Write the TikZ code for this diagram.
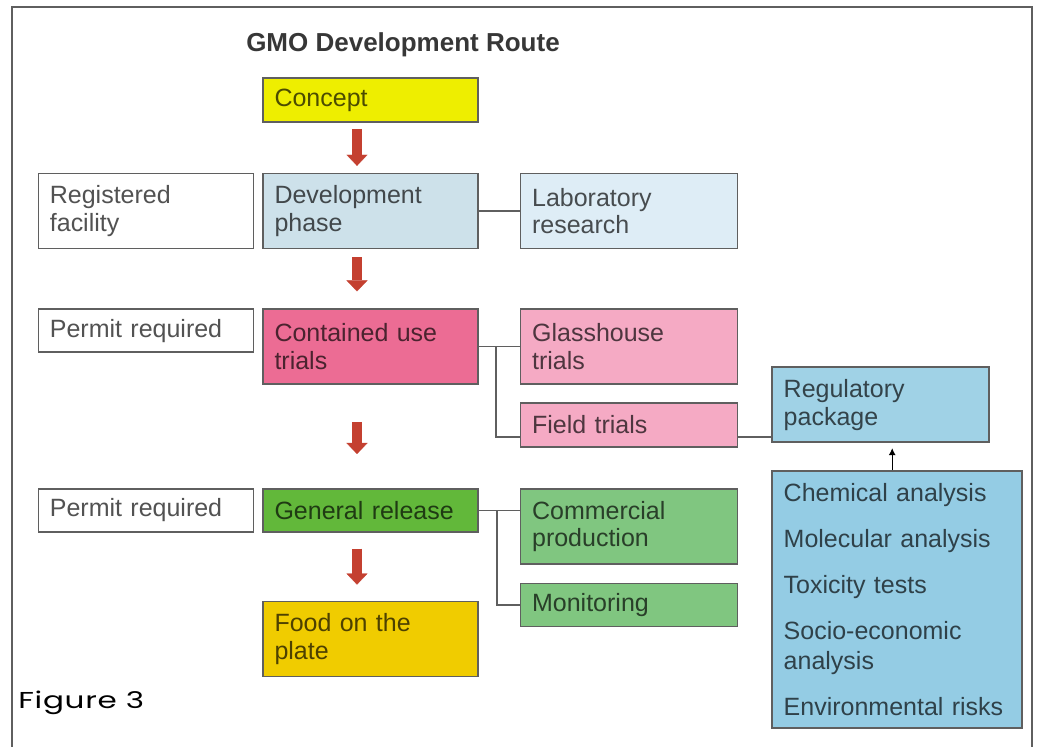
\documentclass[tikz,border=0pt]{standalone}
\usepackage{fontspec}
\setmainfont{Liberation Sans}
\newfontfamily\captionfont[FakeStretch=1.35,LetterSpace=3]{Poppins}
\usetikzlibrary{arrows.meta, positioning, calc}

\definecolor{conceptyellow}{RGB}{238,238,0}
\definecolor{devblue}{RGB}{205,225,234}
\definecolor{labblue}{RGB}{222,237,246}
\definecolor{containedpink}{RGB}{236,108,148}
\definecolor{trialpink}{RGB}{245,170,196}
\definecolor{releasegreen}{RGB}{98,184,58}
\definecolor{productiongreen}{RGB}{128,198,128}
\definecolor{plategold}{RGB}{240,204,0}
\definecolor{packageblue}{RGB}{160,210,230}
\definecolor{analysisblue}{RGB}{148,204,228}
\definecolor{arrowred}{RGB}{196,64,48}
\definecolor{edgegray}{RGB}{95,95,95}
\definecolor{titlegray}{RGB}{55,55,55}

\begin{document}
\begin{tikzpicture}[
	x=1pt, y=1pt,
	box/.style={
		rectangle, draw=edgegray, line width=0.8pt, fill=#1, text=#1!32!black,
		text width=96pt, inner xsep=5.75pt, align=left,
		font=\fontsize{12.5}{13.75}\selectfont
	},
	box/.default=white,
	tall/.style={minimum height=37.5pt},
	short/.style={minimum height=21.5pt},
	link/.style={draw=edgegray, line width=0.75pt},
	flow/.style={draw=arrowred, line width=5pt,
		-{Triangle[width=10.5pt, length=5.5pt, line width=0.1pt, color=arrowred]}},
	uparrow/.style={line width=0.6pt, -{Latex[length=3.5pt, width=3.5pt]}},
	heading/.style={font=\fontsize{13}{15}\selectfont\bfseries, text=titlegray, inner sep=0pt},
	caption/.style={font=\captionfont\fontsize{11.5}{13}\selectfont, text=black, inner sep=0pt},
	frame/.style={draw=edgegray, line width=0.75pt}
	]
	\useasboundingbox (0,0) rectangle (520,-373.5);
	
	% Frame
	\draw[frame] (6,-373.5) -- (6,-3.5) -- (516,-3.5) -- (516,-373.5);
	
	% Nodes
	\node[box=conceptyellow, short, minimum height=22pt] (concept) at (185.25,-50) {Concept};
	\node[heading, above=13pt of concept.north, anchor=base, xshift=16.25pt] (title) {GMO Development Route};
	\node[box=devblue, tall, below=25pt of concept] (dev) {Development\\ phase};
	\node[box, tall, left=4pt of dev] (facility) {Registered\\ facility};
	\node[box=labblue, tall, right=20.5pt of dev, text width=97pt] (lab) {Laboratory\\ research};
	\node[box=containedpink, tall, below=29.5pt of dev] (contained) {Contained use\\ trials};
	\node[box, short, left=4pt of contained.north west, anchor=north east] (permit1) {Permit required};
	\node[box=trialpink, tall, right=20.5pt of contained, text width=97pt] (glass) {Glasshouse\\ trials};
	\node[box=trialpink, short, below=8.5pt of glass, text width=97pt, minimum height=22pt] (field) {Field trials};
	\node[box=packageblue, tall, right=16.5pt of field, yshift=10pt, text width=97pt] (package) {Regulatory\\ package};
	\node[box=analysisblue, below=13.5pt of package.south west, anchor=north west,
		text width=113.5pt, inner ysep=2.85pt, minimum height=128.5pt, font=\fontsize{12.5}{15.25}\selectfont] (analyses)
		{Chemical analysis\\[7.75pt] Molecular analysis\\[7.75pt] Toxicity tests\\[7.75pt] Socio-economic\\ analysis\\[7.75pt] Environmental risks};
	\node[box=releasegreen, short, below=51.5pt of contained] (release) {General release};
	\node[box, short, left=4pt of release] (permit2) {Permit required};
	\node[box=productiongreen, tall, right=20.5pt of release.north east, anchor=north west, text width=97pt] (production) {Commercial\\ production};
	\node[box=productiongreen, short, below=9pt of production, text width=97pt] (monitoring) {Monitoring};
	\node[box=plategold, tall, below=34pt of release] (plate) {Food on the\\ plate};
	\node[caption, anchor=base west] (figure) at (9,-354.5) {Figure 3};
	
	% Main route arrows
	\draw[flow, shorten <=3pt, shorten >=3.5pt] ([xshift=-6.75pt]concept.south) -- ([xshift=-6.75pt]dev.north);
	\draw[flow, shorten <=4pt, shorten >=8.5pt] ([xshift=-6.75pt]dev.south) -- ([xshift=-6.75pt]contained.north);
	\draw[flow, shorten <=18.5pt, shorten >=17pt] ([xshift=-6.75pt]contained.south) -- ([xshift=-6.75pt]release.north);
	\draw[flow, shorten <=8pt, shorten >=8pt] ([xshift=-6.75pt]release.south) -- ([xshift=-6.75pt]plate.north);
	
	% Side links
	\draw[link] (dev.east) -- (lab.west);
	\draw[link] (contained.east) -- (glass.west);
	\draw[link] ([xshift=8.5pt]contained.east) |- ([yshift=-6pt]field.west);
	\draw[link] ([yshift=-6pt]field.east) -- ([yshift=-6pt]field.east -| package.west);
	\draw[link] (release.east) -- (release.east -| production.west);
	\draw[link] ([xshift=9pt]release.east) |- (monitoring.west);
	\draw[uparrow, shorten >=2.5pt] ([xshift=-2.5pt]analyses.north) -- ([xshift=-2.5pt]analyses.north |- package.south);
\end{tikzpicture}
\end{document}
